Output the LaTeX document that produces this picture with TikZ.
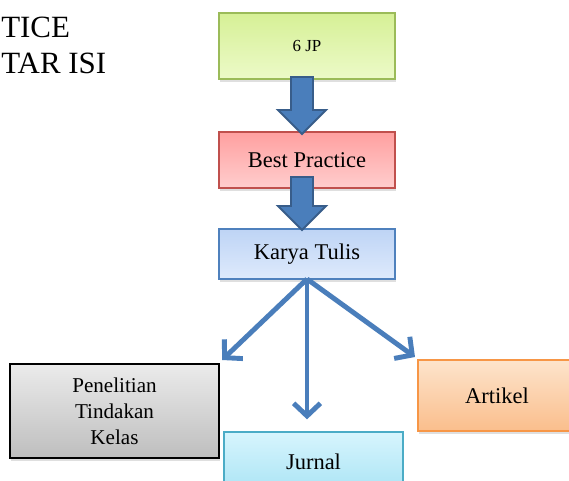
\documentclass[tikz,border=0pt]{standalone}
\usepackage{fontspec}
\setmainfont{Liberation Serif}
\usetikzlibrary{calc,arrows.meta,shadows}

\definecolor{arrowblue}{RGB}{74,126,187}
\definecolor{arrowedge}{RGB}{56,93,138}

\tikzset{
  box/.style={draw, line width=1pt, inner sep=0pt, outer sep=0pt, align=center,
    font=\fontsize{16}{19}\selectfont,
    drop shadow={opacity=0.25, shadow xshift=1pt, shadow yshift=-2pt}},
  greenbox/.style={box, draw={rgb,255:red,155;green,187;blue,89},
    top color={rgb,255:red,214;green,240;blue,150}, bottom color={rgb,255:red,236;green,250;blue,200}},
  redbox/.style={box, draw={rgb,255:red,192;green,80;blue,77},
    top color={rgb,255:red,255;green,160;blue,160}, bottom color={rgb,255:red,255;green,205;blue,205}},
  bluebox/.style={box, draw={rgb,255:red,79;green,129;blue,189},
    top color={rgb,255:red,190;green,212;blue,245}, bottom color={rgb,255:red,222;green,234;blue,252}},
  graybox/.style={box, draw=black, top color={rgb,255:red,235;green,235;blue,235},
    bottom color={rgb,255:red,190;green,190;blue,190}},
  cyanbox/.style={box, draw={rgb,255:red,75;green,172;blue,198},
    top color={rgb,255:red,215;green,245;blue,253}, bottom color={rgb,255:red,170;green,228;blue,245}},
  orangebox/.style={box, draw={rgb,255:red,247;green,150;blue,70},
    top color={rgb,255:red,253;green,228;blue,204}, bottom color={rgb,255:red,250;green,190;blue,140}},
  bigarrow/.style={fill=arrowblue, draw=arrowedge, line width=1.4pt, line join=miter},
  thinarrow/.style={draw=arrowblue, line width=3.5pt,
    -{Straight Barb[length=9pt,width=19pt]}},
  title/.style={font=\fontsize{22}{26}\selectfont, inner sep=0pt},
}

% block arrow from #1 (shaft start) to #2 (tip)
\newcommand{\blockarrow}[2]{%
  \draw[bigarrow] ($(#1)+(-11,0)$) -- ($(#2)+(-11,-24)$) -- ($(#2)+(-24,-24)$)
    -- (#2) -- ($(#2)+(24,-24)$) -- ($(#2)+(11,-24)$) -- ($(#1)+(11,0)$) -- cycle;}

\begin{document}
\begin{tikzpicture}[x=0.025cm, y=-0.025cm]
  %%%%% START %%%%%
  \useasboundingbox (0,0) rectangle (569,480);
  \clip (0,0) rectangle (569,480);

  \node[title, anchor=base west] (t1) at (1,37) {TICE};
  \node[title, anchor=base west] (t2) at (1,73) {TAR ISI};

  \node[greenbox, minimum width=4.4cm, minimum height=1.65cm, font=\fontsize{12}{14}\selectfont] (jp) at (307,46) {6 JP};
  \node[redbox, minimum width=4.4cm, minimum height=1.4cm] (bp) at (307,160) {Best Practice};
  \node[bluebox, minimum width=4.4cm, minimum height=1.25cm] (kt) at (307,254) {Karya Tulis};

  \node[graybox, minimum width=5.225cm, minimum height=2.35cm, font=\fontsize{15}{18.5}\selectfont] (ptk) at (114.5,411) {Penelitian\\Tindakan\\Kelas};
  \node[cyanbox, minimum width=4.475cm, minimum height=1.5cm] (jurnal) at (313.5,462) {Jurnal};
  \node[orangebox, minimum width=3.95cm, minimum height=1.775cm] (artikel) at (497,395.5) {Artikel};

  \coordinate (a1s) at ($(jp.south)+(-5,-2)$);
  \coordinate (a1t) at ($(bp.north)+(-5,2)$);
  \coordinate (a2s) at ($(bp.south)+(-5,-11)$);
  \coordinate (a2t) at ($(kt.north)+(-5,1)$);
  \blockarrow{a1s}{a1t}
  \blockarrow{a2s}{a2t}

  \draw[thinarrow] (kt.south) -- ($(ptk.north east)+(3,-4)$);
  \draw[thinarrow, shorten >=9pt] (kt.south) -- (kt.south |- jurnal.north);
  \draw[thinarrow] (kt.south) -- ($(artikel.north west)+(-3,-3)$);
  %%%%% END %%%%%
\end{tikzpicture}
\end{document}
